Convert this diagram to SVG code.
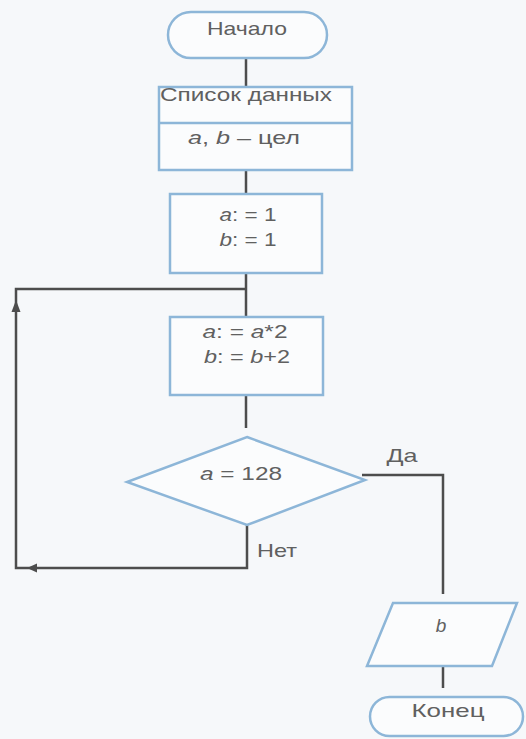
<svg xmlns="http://www.w3.org/2000/svg" width="526" height="739" viewBox="0 0 526 739">
<style>
.shape{fill:#fbfcfd;stroke:#8db6d8;stroke-width:2.5}
.conn{fill:none;stroke:#4d4d4d;stroke-width:2.5}
.arr{fill:#4d4d4d}
text{font-family:"Liberation Sans",Arial,sans-serif;font-size:19px;fill:#606060;text-anchor:middle}
.i{font-style:italic}
</style>
<rect width="526" height="739" fill="#f6f8fa"/>
<g id="connectors">
<line class="conn" x1="246" y1="58" x2="246" y2="87"/>
<line class="conn" x1="246" y1="170" x2="246" y2="194"/>
<line class="conn" x1="246" y1="273" x2="246" y2="317"/>
<line class="conn" x1="246" y1="395" x2="246" y2="428"/>
<polyline class="conn" points="247,525 247,568 16,568 16,289 246,289"/>
<polygon class="arr" points="27,568 37,563.5 37,572.5"/>
<polygon class="arr" points="16,300 11.5,312 20.5,312"/>
<polyline class="conn" points="362,475 443,475 443,594"/>
<line class="conn" x1="443" y1="664" x2="443" y2="688"/>
</g>
<g id="start">
<rect class="shape" x="168" y="12" width="159" height="46" rx="23"/>
<text x="247" y="35" textLength="80" lengthAdjust="spacingAndGlyphs">Начало</text>
</g>
<g id="data">
<rect class="shape" x="159" y="87" width="193" height="83"/>
<line class="shape" x1="159" y1="123" x2="352" y2="123"/>
<text x="246" y="101" textLength="172" lengthAdjust="spacingAndGlyphs">Список данных</text>
<text x="244" y="144" textLength="112" lengthAdjust="spacingAndGlyphs"><tspan class="i">a</tspan>, <tspan class="i">b</tspan> – цел</text>
</g>
<g id="init">
<rect class="shape" x="170" y="194" width="152" height="79"/>
<text x="248" y="221" textLength="57" lengthAdjust="spacingAndGlyphs"><tspan class="i">a</tspan>: = 1</text>
<text x="248" y="246" textLength="57" lengthAdjust="spacingAndGlyphs"><tspan class="i">b</tspan>: = 1</text>
</g>
<g id="step">
<rect class="shape" x="170" y="317" width="153" height="78"/>
<text x="245" y="338" textLength="85" lengthAdjust="spacingAndGlyphs"><tspan class="i">a</tspan>: = <tspan class="i">a</tspan>*2</text>
<text x="247" y="363" textLength="86" lengthAdjust="spacingAndGlyphs"><tspan class="i">b</tspan>: = <tspan class="i">b</tspan>+2</text>
</g>
<g id="cond">
<polygon class="shape" points="247,437 365,480 247,525 127,482"/>
<text x="241" y="480" textLength="82" lengthAdjust="spacingAndGlyphs"><tspan class="i">a</tspan> = 128</text>
<text x="402" y="462" textLength="31" lengthAdjust="spacingAndGlyphs">Да</text>
<text x="277" y="557" textLength="40" lengthAdjust="spacingAndGlyphs">Нет</text>
</g>
<g id="output">
<polygon class="shape" points="393,603 517,603 492,666 367,666"/>
<text x="441" y="632" class="i">b</text>
</g>
<g id="end">
<rect class="shape" x="370" y="697" width="153" height="39" rx="19.5"/>
<text x="448" y="717" textLength="73" lengthAdjust="spacingAndGlyphs">Конец</text>
</g>
</svg>
